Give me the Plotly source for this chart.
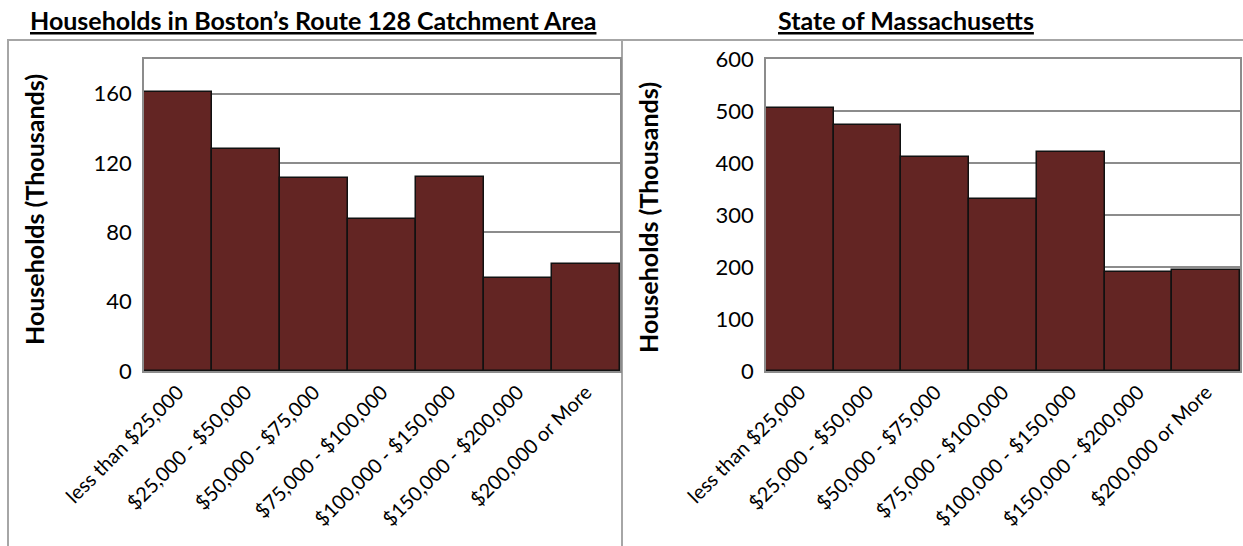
import plotly.graph_objects as go

categories = ["less than $25,000", "$25,000 - $50,000", "$50,000 - $75,000",
              "$75,000 - $100,000", "$100,000 - $150,000", "$150,000 - $200,000",
              "$200,000 or More"]
route128_values = [161, 128, 111.5, 87.5, 112, 53.5, 61.8]
massachusetts_values = [505, 473, 412, 330, 422, 191, 194]
left_title = "Households in Boston\u2019s Route 128 Catchment Area"
right_title = "State of Massachusetts"
y_title = "Households (Thousands)"

W, H = 1243, 546
FONT = "Lato"
BAR = "#632523"
GRID = "#8c8c8c"

def px(x):
    return x / W

def py(y):
    return 1 - y / H

fig = go.Figure()
fig.add_trace(go.Bar(x=categories, y=route128_values, marker=dict(color=BAR, line=dict(color="#111111", width=1.5)),
                     xaxis="x", yaxis="y", showlegend=False))
fig.add_trace(go.Bar(x=categories, y=massachusetts_values, marker=dict(color=BAR, line=dict(color="#111111", width=1.5)),
                     xaxis="x2", yaxis="y2", showlegend=False))

xcommon = dict(tickangle=-45, tickfont=dict(family=FONT, size=20, color="#000"), showline=True, mirror=True,
               linecolor=GRID, linewidth=1.5, showgrid=False, ticks="", fixedrange=True, automargin=False)
ycommon = dict(tickfont=dict(family=FONT, size=22, color="#000"), showline=True, mirror=True,
               linecolor=GRID, linewidth=1.5, showgrid=True, gridcolor=GRID, gridwidth=1.5,
               zeroline=False, ticks="", ticklabelstandoff=6, fixedrange=True, automargin=False)

fig.update_layout(
    template="none",
    width=W, height=H, margin=dict(l=0, r=0, t=0, b=0, autoexpand=False),
    paper_bgcolor="white", plot_bgcolor="white", bargap=0,
    xaxis=dict(domain=[px(144), px(620)], anchor="y", **xcommon),
    yaxis=dict(domain=[py(371), py(59)], anchor="x", range=[0, 180], dtick=40, **ycommon),
    xaxis2=dict(domain=[px(766), px(1240)], anchor="y2", **xcommon),
    yaxis2=dict(domain=[py(371), py(59)], anchor="x2", range=[0, 600], dtick=100, **ycommon),
)

shapes = [
    dict(type="rect", xref="paper", yref="paper", x0=px(8), x1=px(622), y0=py(560), y1=py(40),
         line=dict(color="#a6a6a6", width=2), layer="below"),
    dict(type="rect", xref="paper", yref="paper", x0=px(622), x1=px(1250), y0=py(560), y1=py(40),
         line=dict(color="#a6a6a6", width=2), layer="below"),
]
fig.update_layout(shapes=shapes)

annotations = [
    dict(text="<b><u>" + left_title + "</u></b>", x=px(313), y=py(20), xref="paper", yref="paper",
         showarrow=False, font=dict(family=FONT, size=25, color="#000"), xanchor="center", yanchor="middle"),
    dict(text="<b><u>" + right_title + "</u></b>", x=px(906), y=py(20), xref="paper", yref="paper",
         showarrow=False, font=dict(family=FONT, size=25, color="#000"), xanchor="center", yanchor="middle"),
    dict(text="<b>" + y_title + "</b>", x=px(34), y=py(210), xref="paper", yref="paper", textangle=-90,
         showarrow=False, font=dict(family=FONT, size=25, color="#000"), xanchor="center", yanchor="middle"),
    dict(text="<b>" + y_title + "</b>", x=px(648), y=py(218), xref="paper", yref="paper", textangle=-90,
         showarrow=False, font=dict(family=FONT, size=25, color="#000"), xanchor="center", yanchor="middle"),
]
fig.update_layout(annotations=annotations)

fig.write_html("out.html")
